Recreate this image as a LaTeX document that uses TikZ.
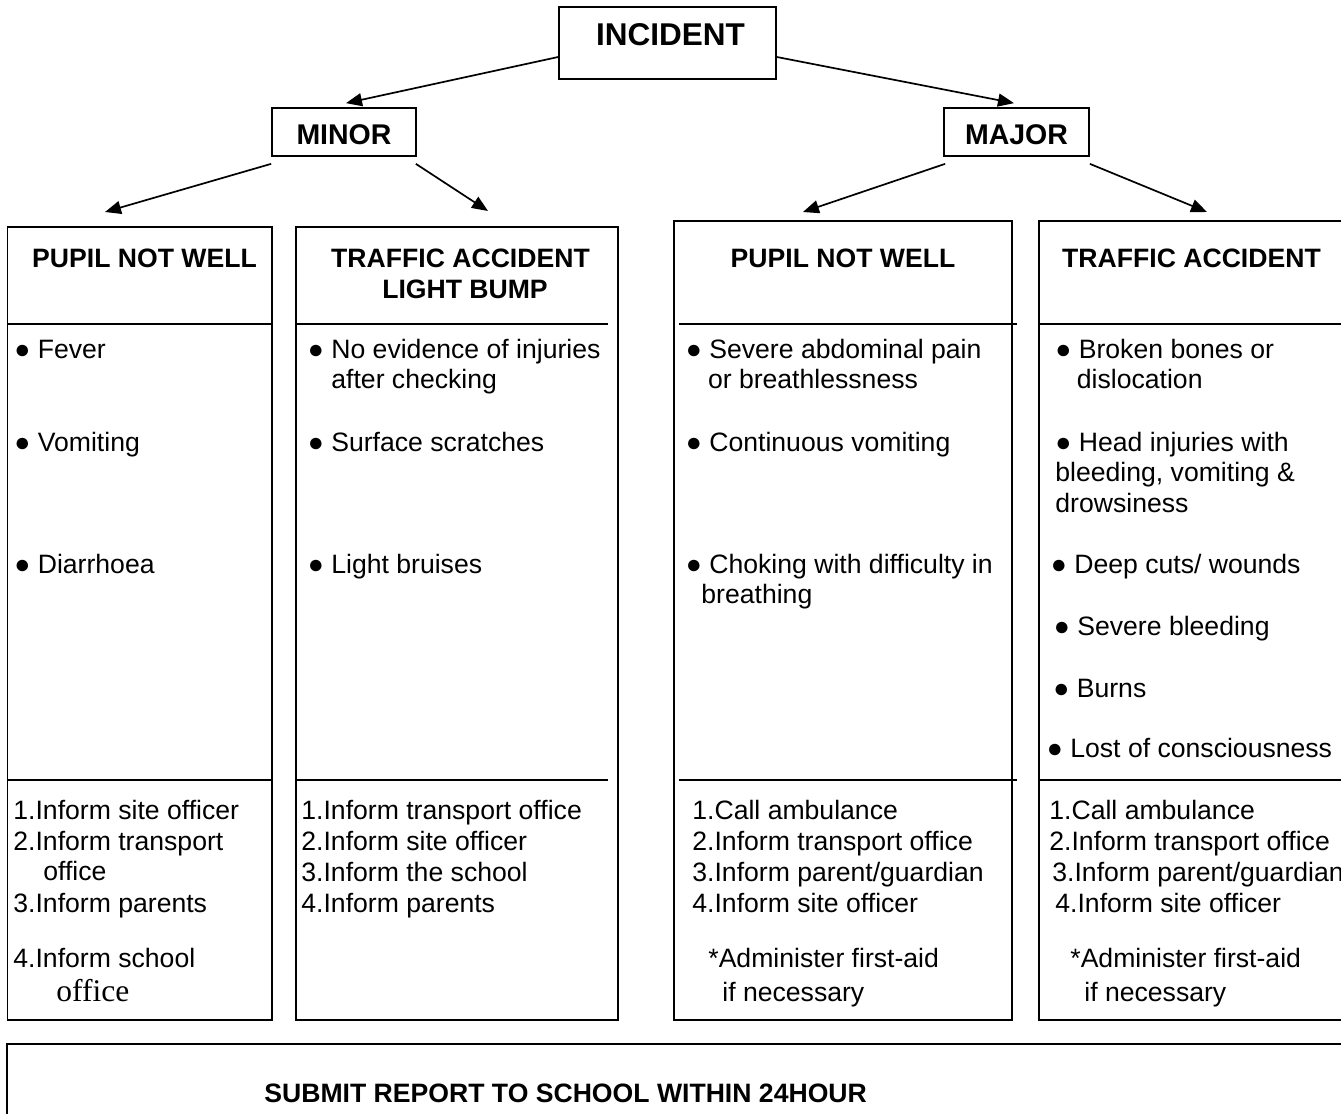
\documentclass[tikz,border=0pt]{standalone}
\usepackage{fontspec}
\setmainfont{Liberation Sans}
\newfontfamily\timesfam{Liberation Serif}
\usetikzlibrary{arrows.meta,fit}
\newcommand\bodyfs{\fontsize{13.3}{15.5}\selectfont}
\begin{document}
\begin{tikzpicture}[x=0.5pt,y=-0.5pt,
  box/.style={draw,line width=0.85pt,inner sep=0pt},
  rule/.style={line width=0.85pt},
  txt/.style={anchor=base west,inner sep=0pt,font=\bodyfs},
  hdr/.style={anchor=base,inner sep=0pt,font=\bodyfs\bfseries},
  arr/.style={-{Triangle[length=8pt,width=6.5pt]},line width=0.85pt}]
\useasboundingbox (0,0) rectangle (1341,1114);
\clip (0,0) rectangle (1341,1114);

% top level
\node[box,fit={(559,7) (776,79)}] (incident) {};
\node[hdr,font=\fontsize{15.75}{18}\selectfont\bfseries] (incidentT) at (670.5,45) {INCIDENT};
\node[box,fit={(272,108) (416,156)}] (minor) {};
\node[hdr,font=\fontsize{14.25}{17}\selectfont\bfseries] (minorT) at (344,144) {MINOR};
\node[box,fit={(944,108) (1089,156)}] (major) {};
\node[hdr,font=\fontsize{14.25}{17}\selectfont\bfseries] (majorT) at (1016.5,144) {MAJOR};

% category boxes
\node[box,fit={(7.5,227) (272,1020)}] (b1) {};
\node[box,fit={(296,227) (618,1020)}] (b2) {};
\node[box,fit={(674,221) (1012,1020)}] (b3) {};
\node[box,fit={(1039,221) (1420,1020)}] (b4) {};
\node[box,fit={(7,1044) (1420,1200)}] (b5) {};

\draw[rule] (7,324) -- (272,324);   \draw[rule] (7,780) -- (272,780);
\draw[rule] (296,324) -- (608,324); \draw[rule] (296,780) -- (608,780);
\draw[rule] (679,324) -- (1017,324); \draw[rule] (679,780) -- (1017,780);
\draw[rule] (1039,324) -- (1420,324); \draw[rule] (1039,780) -- (1420,780);

% arrow targets
\coordinate (t1) at (105,212);
\coordinate (t2) at (488,211);
\coordinate (t3) at (803,212);
\coordinate (t4) at (1207,212);

\draw[arr] ([yshift=-7pt]incident.west) -- ([xshift=1pt,yshift=2pt]minor.north);
\draw[arr] ([yshift=-7pt]incident.east) -- ([xshift=-1.25pt,yshift=2pt]major.north);
\draw[arr] ([yshift=-3.5pt]minor.south west) -- (t1);
\draw[arr] ([yshift=-3.5pt,xshift=-0.5pt]minor.south east) -- (t2);
\draw[arr] ([yshift=-3.5pt,xshift=1pt]major.south west) -- (t3);
\draw[arr] ([yshift=-3.5pt]major.south east) -- (t4);

% box 1
\node[hdr] (h1) at (144.5,267) {PUPIL NOT WELL};
\node[txt] (p1a) at (14,358) {● Fever};
\node[txt] (p1b) at (14,451) {● Vomiting};
\node[txt] (p1c) at (14,573) {● Diarrhoea};
\node[txt] (a1a) at (13,819) {1.Inform site officer};
\node[txt] (a1b) at (13,850) {2.Inform transport};
\node[txt] (a1c) at (43,880) {office};
\node[txt] (a1d) at (13,912) {3.Inform parents};
\node[txt] (a1e) at (13,967) {4.Inform school};
\node[txt,font=\fontsize{15.75}{18}\selectfont\timesfam] (a1f) at (56,1001) {office};

% box 2
\node[hdr] (h2a) at (460.5,267) {TRAFFIC ACCIDENT};
\node[hdr] (h2b) at (465,298) {LIGHT BUMP};
\node[txt] (p2a) at (307.5,358) {● No evidence of injuries};
\node[txt] (p2b) at (331,388) {after checking};
\node[txt] (p2c) at (307.5,451) {● Surface scratches};
\node[txt] (p2d) at (307.5,573) {● Light bruises};
\node[txt] (a2a) at (301,819) {1.Inform transport office};
\node[txt] (a2b) at (301,850) {2.Inform site officer};
\node[txt] (a2c) at (301,881) {3.Inform the school};
\node[txt] (a2d) at (301,912) {4.Inform parents};

% box 3
\node[hdr] (h3) at (843,267) {PUPIL NOT WELL};
\node[txt] (p3a) at (685.5,358) {● Severe abdominal pain};
\node[txt] (p3b) at (707.6,388) {or breathlessness};
\node[txt] (p3c) at (685.5,451) {● Continuous vomiting};
\node[txt] (p3d) at (685.5,573) {● Choking with difficulty in};
\node[txt] (p3e) at (701,603) {breathing};
\node[txt] (a3a) at (692,819) {1.Call ambulance};
\node[txt] (a3b) at (692,850) {2.Inform transport office};
\node[txt] (a3c) at (692,881) {3.Inform parent/guardian};
\node[txt] (a3d) at (692,912) {4.Inform site officer};
\node[txt] (a3e) at (708,967) {*Administer first-aid};
\node[txt] (a3f) at (722,1001) {if necessary};

% box 4
\node[hdr] (h4) at (1191.5,267) {TRAFFIC ACCIDENT};
\node[txt] (p4a) at (1055,358) {● Broken bones or};
\node[txt] (p4b) at (1076.5,388) {dislocation};
\node[txt] (p4c) at (1055,451) {● Head injuries with};
\node[txt] (p4d) at (1055,481) {bleeding, vomiting \&};
\node[txt] (p4e) at (1055,512) {drowsiness};
\node[txt] (p4f) at (1050.5,573) {● Deep cuts/ wounds};
\node[txt] (p4g) at (1053.5,635) {● Severe bleeding};
\node[txt] (p4h) at (1053,697) {● Burns};
\node[txt] (p4i) at (1046.5,757) {● Lost of consciousness};
\node[txt] (a4a) at (1049,819) {1.Call ambulance};
\node[txt] (a4b) at (1049,850) {2.Inform transport office};
\node[txt] (a4c) at (1052,881) {3.Inform parent/guardian};
\node[txt] (a4d) at (1055,912) {4.Inform site officer};
\node[txt] (a4e) at (1070,967) {*Administer first-aid};
\node[txt] (a4f) at (1084,1001) {if necessary};

% bottom
\node[txt,font=\bodyfs\bfseries] (sub) at (264,1102) {SUBMIT REPORT TO SCHOOL WITHIN 24HOUR};
\end{tikzpicture}
\end{document}
